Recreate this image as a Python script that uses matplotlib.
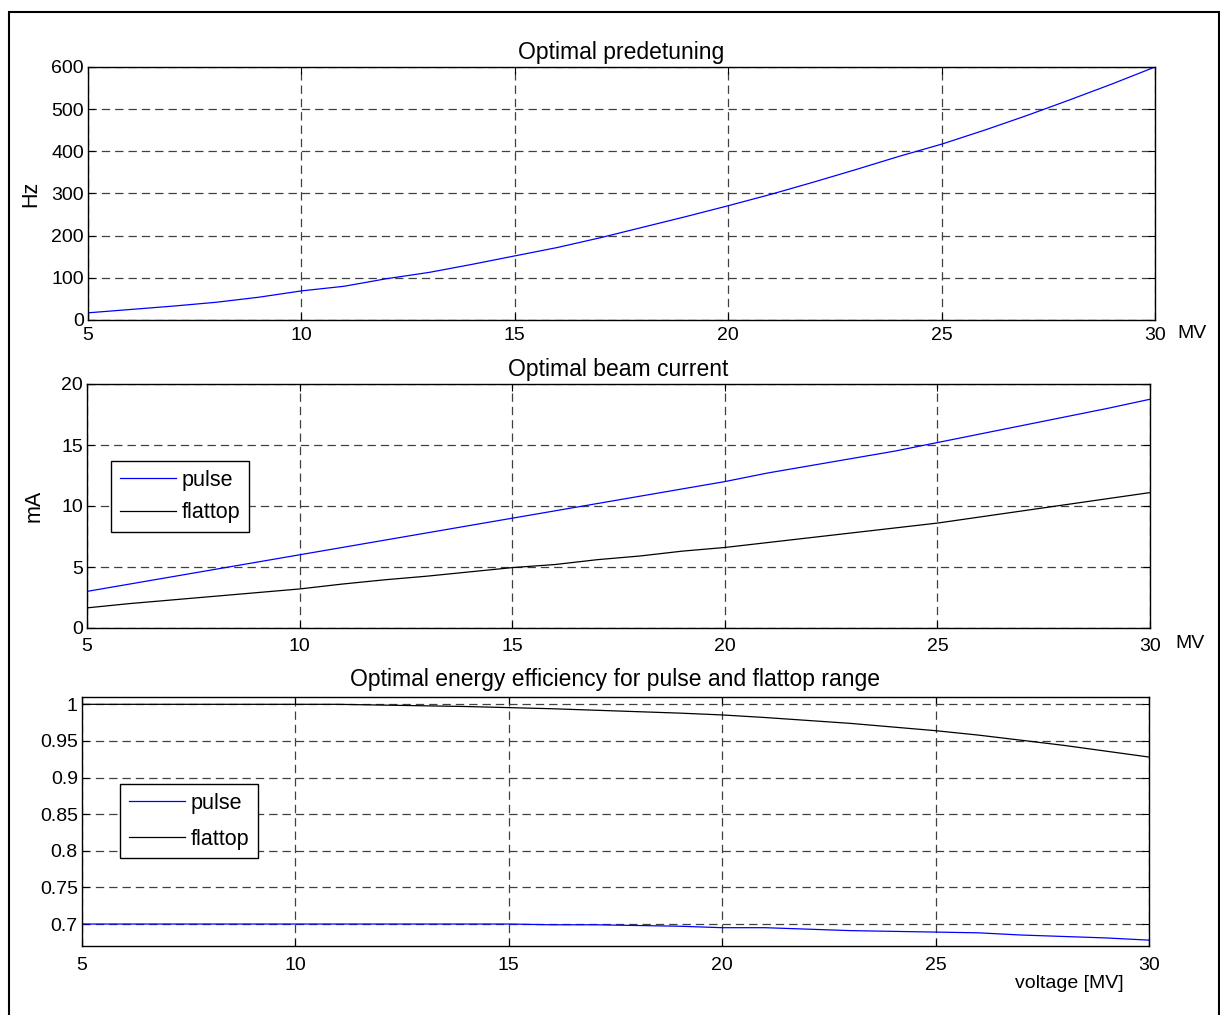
import numpy as np
import matplotlib; matplotlib.use("Agg"); import matplotlib.pyplot as plt
from matplotlib.patches import Rectangle
from matplotlib.ticker import FuncFormatter

plt.rcParams["font.family"] = ["Liberation Sans", "DejaVu Sans"]
plt.rcParams["lines.scale_dashes"] = False

# voltage grid [MV]
volt = [5, 6, 7, 8, 9, 10, 11, 12, 13, 14, 15, 16, 17, 18, 19, 20,
        21, 22, 23, 24, 25, 26, 27, 28, 29, 30]
# optimal predetuning [Hz]
detune = [17, 25, 33, 42, 54, 69, 80, 98, 113, 132, 152, 172, 195, 220, 245, 271,
          298, 327, 357, 388, 417, 450, 485, 522, 560, 600]
# optimal beam current [mA]
cur_pulse = [3.0, 3.6, 4.2, 4.8, 5.4, 6.0, 6.6, 7.2, 7.8, 8.4, 9.0, 9.6, 10.2, 10.8, 11.4, 12.0,
             12.7, 13.3, 13.9, 14.5, 15.2, 15.9, 16.6, 17.3, 18.0, 18.75]
cur_flat = [1.65, 2.0, 2.3, 2.6, 2.9, 3.2, 3.6, 3.95, 4.25, 4.6, 4.95, 5.2, 5.6, 5.9, 6.3, 6.6,
            7.0, 7.4, 7.8, 8.2, 8.6, 9.1, 9.6, 10.1, 10.6, 11.1]
# optimal energy efficiency
eff_pulse = [0.700, 0.700, 0.700, 0.700, 0.700, 0.700, 0.700, 0.700, 0.700, 0.700, 0.700,
             0.699, 0.699, 0.698, 0.697, 0.695, 0.695, 0.693, 0.691, 0.690, 0.689,
             0.688, 0.685, 0.683, 0.681, 0.678]
eff_flat = [1.000, 1.000, 1.000, 1.000, 1.000, 1.000, 1.000, 0.999, 0.998, 0.997, 0.9955,
            0.994, 0.992, 0.990, 0.988, 0.9855, 0.982, 0.978, 0.974, 0.969, 0.964,
            0.958, 0.951, 0.944, 0.936, 0.928]

W, H = 1220, 1015
fig = plt.figure(figsize=(W/100, H/100), dpi=100)
fig.patches.append(Rectangle((9/W, -0.01), 1210/W, (H-12)/H + 0.01, transform=fig.transFigure,
                             fill=False, ec="black", lw=1.5))

FT, FK, FL = 16.5, 14, 15.5   # title, ticks, labels/legend


def box(l, r, t, b):
    return [l/W, (H-b)/H, (r-l)/W, (b-t)/H]


def style(a, xpad):
    a.set_xlim(5, 30); a.set_xticks([5, 10, 15, 20, 25, 30])
    a.grid(True, color="0.25", ls=(0, (6, 3.6)), lw=0.9)
    a.tick_params(direction="in", top=True, right=True, length=5, labelsize=FK, pad=3,
                  width=0.8)
    a.tick_params(axis="x", pad=xpad)
    for s in a.spines.values():
        s.set_linewidth(1.0)


def legend(a, x, y, sp):
    lg = a.legend(loc="upper left", bbox_to_anchor=(x, y), fontsize=FL, fancybox=False,
                  framealpha=1, edgecolor="black", borderpad=0.4, handlelength=2.6,
                  handletextpad=0.3, labelspacing=sp, borderaxespad=0)
    lg.get_frame().set_linewidth(1.0)


ax1 = fig.add_axes(box(88, 1155, 67, 320))
ax1.plot(volt, detune, color="#0000ff", lw=0.9)
style(ax1, 5); ax1.set_ylim(0, 600); ax1.set_yticks(range(0, 601, 100))
ax1.set_title("Optimal predetuning", fontsize=FT, pad=6)
ax1.set_ylabel("Hz", fontsize=FL, labelpad=7)
ax1.text((1177-88)/1067, -13/253, "MV", transform=ax1.transAxes, fontsize=FK,
         ha="left", va="center")

ax2 = fig.add_axes(box(87, 1150, 384, 628))
ax2.plot(volt, cur_pulse, color="#0000ff", lw=0.9, label="pulse")
ax2.plot(volt, cur_flat, color="black", lw=0.9, label="flattop")
style(ax2, 7); ax2.set_ylim(0, 20); ax2.set_yticks(range(0, 21, 5))
ax2.set_title("Optimal beam current", fontsize=FT, pad=6)
ax2.set_ylabel("mA", fontsize=FL, labelpad=12)
ax2.text((1175-87)/1063, -15/244, "MV", transform=ax2.transAxes, fontsize=FK,
         ha="left", va="center")
legend(ax2, 24/1063, 1-77/244, 0.55)

ax3 = fig.add_axes(box(82, 1149, 697, 946))
ax3.plot(volt, eff_pulse, color="#0000ff", lw=0.9, label="pulse")
ax3.plot(volt, eff_flat, color="black", lw=0.9, label="flattop")
style(ax3, 8); ax3.set_ylim(0.67, 1.01)
ax3.set_yticks([0.7, 0.75, 0.8, 0.85, 0.9, 0.95, 1.0])
ax3.yaxis.set_major_formatter(FuncFormatter(lambda v, p: f"{v:g}"))
ax3.set_title("Optimal energy efficiency for pulse and flattop range", fontsize=FT, pad=8)
ax3.text((1069-82)/1067, -37/249, "voltage [MV]", transform=ax3.transAxes, fontsize=FK,
         ha="center", va="center")
legend(ax3, 38/1067, 1-87/249, 0.7)

fig.savefig("out.png", dpi=100)
